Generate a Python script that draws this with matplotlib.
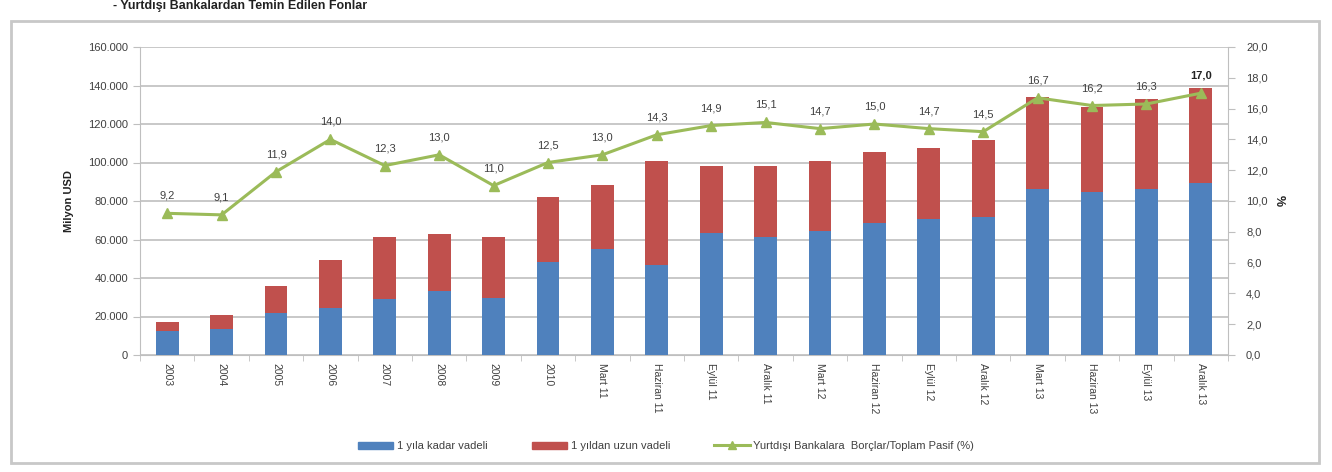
import matplotlib.pyplot as plt
from matplotlib.patches import Rectangle
from matplotlib.ticker import FuncFormatter, FixedLocator
from matplotlib.lines import Line2D

plt.rcParams['font.family'] = ['Liberation Sans', 'DejaVu Sans']

# Data
periods = ['2003', '2004', '2005', '2006', '2007', '2008', '2009', '2010',
           'Mart 11', 'Haziran 11', 'Eylül 11', 'Aralık 11',
           'Mart 12', 'Haziran 12', 'Eylül 12', 'Aralık 12',
           'Mart 13', 'Haziran 13', 'Eylül 13', 'Aralık 13']
short_term = [12500, 13500, 22000, 24500, 29000, 33000, 29500, 48500,
              55000, 46500, 63500, 61500, 64500, 68500, 70500, 71500,
              86200, 84500, 86200, 89500]
total = [17000, 21000, 36000, 49500, 61500, 63000, 61500, 82000,
         88500, 101000, 98000, 98000, 101000, 105500, 107500, 111500,
         134000, 128800, 133000, 138500]
long_term = [t - s for t, s in zip(total, short_term)]
ratio = [9.2, 9.1, 11.9, 14.0, 12.3, 13.0, 11.0, 12.5, 13.0, 14.3,
         14.9, 15.1, 14.7, 15.0, 14.7, 14.5, 16.7, 16.2, 16.3, 17.0]

BLUE = '#4F81BD'
RED = '#C0504D'
GREEN = '#9BBB59'
TXT = '#404040'

fig = plt.figure(figsize=(13.32, 4.72), dpi=100)

# outer chart frame
fig.patches.append(Rectangle((11 / 1332, 1 - 463 / 472), 1308 / 1332, 442 / 472,
                             transform=fig.transFigure, fill=False,
                             edgecolor='#C8C8C8', linewidth=2.0))
# title line at the very top
fig.text(0.085, 0.999, '- Yurtdışı Bankalardan Temin Edilen Fonlar', fontsize=9,
         fontweight='bold', color='#222222', va='top', ha='left')

ax = fig.add_axes([140 / 1332, 1 - 355 / 472, 1088 / 1332, 308 / 472])
x = list(range(len(periods)))
ax.bar(x, short_term, width=0.42, color=BLUE, zorder=3, label='1 yıla kadar vadeli')
ax.bar(x, long_term, width=0.42, bottom=short_term, color=RED, zorder=3,
       label='1 yıldan uzun vadeli')

ax.set_xlim(-0.5, len(periods) - 0.5)
ax.set_ylim(0, 160000)
ax.set_yticks(range(0, 160001, 20000))
ax.yaxis.set_major_formatter(FuncFormatter(lambda v, p: f'{int(v):,}'.replace(',', '.')))
ax.grid(axis='y', color='#BFBFBF', linewidth=1.2, zorder=0)
ax.set_xticks(x)
ax.set_xticklabels(periods, rotation=-90, fontsize=7.5, color=TXT)
ax.tick_params(axis='x', length=0, pad=6)
ax.xaxis.set_minor_locator(FixedLocator([i + 0.5 for i in range(-1, len(periods))]))
ax.tick_params(axis='x', which='minor', length=4, color='#BFBFBF')
ax.tick_params(axis='y', length=5, color='#BFBFBF', labelsize=8, labelcolor=TXT)
for s in ['top', 'right']:
    ax.spines[s].set_visible(False)
ax.spines['left'].set_color('#BFBFBF')
ax.spines['bottom'].set_color('#BFBFBF')
ax.set_ylabel('Milyon USD', fontsize=8, fontweight='bold', color='#222222', labelpad=10)

ax2 = ax.twinx()
ax2.plot(x, ratio, color=GREEN, linewidth=2.2, marker='^', markersize=7, zorder=5,
         label='Yurtdışı Bankalara  Borçlar/Toplam Pasif (%)')
ax2.set_ylim(0, 20)
ax2.set_yticks([i * 2 for i in range(11)])
ax2.yaxis.set_major_formatter(FuncFormatter(lambda v, p: f'{v:.1f}'.replace('.', ',')))
ax2.tick_params(axis='y', length=5, color='#BFBFBF', labelsize=8, labelcolor=TXT, pad=8)
for s in ['top', 'left', 'bottom']:
    ax2.spines[s].set_visible(False)
ax2.spines['right'].set_color('#BFBFBF')
ax2.set_ylabel('%', rotation=-90, fontsize=9, fontweight='bold', color='#222222', labelpad=12)

for i, v in enumerate(ratio):
    last = i == len(ratio) - 1
    ax2.annotate(f'{v:.1f}'.replace('.', ','), (i, v), xytext=(0, 9),
                 textcoords='offset points', ha='center', va='bottom', fontsize=8,
                 color='#222222' if last else TXT,
                 fontweight='bold' if last else 'normal', zorder=6)

handles = [Rectangle((0, 0), 1, 1, color=BLUE), Rectangle((0, 0), 1, 1, color=RED),
           Line2D([], [], color=GREEN, linewidth=2.2, marker='^', markersize=6)]
labels = ['1 yıla kadar vadeli', '1 yıldan uzun vadeli',
          'Yurtdışı Bankalara  Borçlar/Toplam Pasif (%)']
fig.legend(handles, labels, loc='center', bbox_to_anchor=(0.5, 1 - 446 / 472),
           ncol=3, frameon=False, fontsize=8, handlelength=3.2, handleheight=0.6,
           columnspacing=4.0, handletextpad=0.3, labelcolor=TXT)

fig.savefig('out.png', dpi=100)
